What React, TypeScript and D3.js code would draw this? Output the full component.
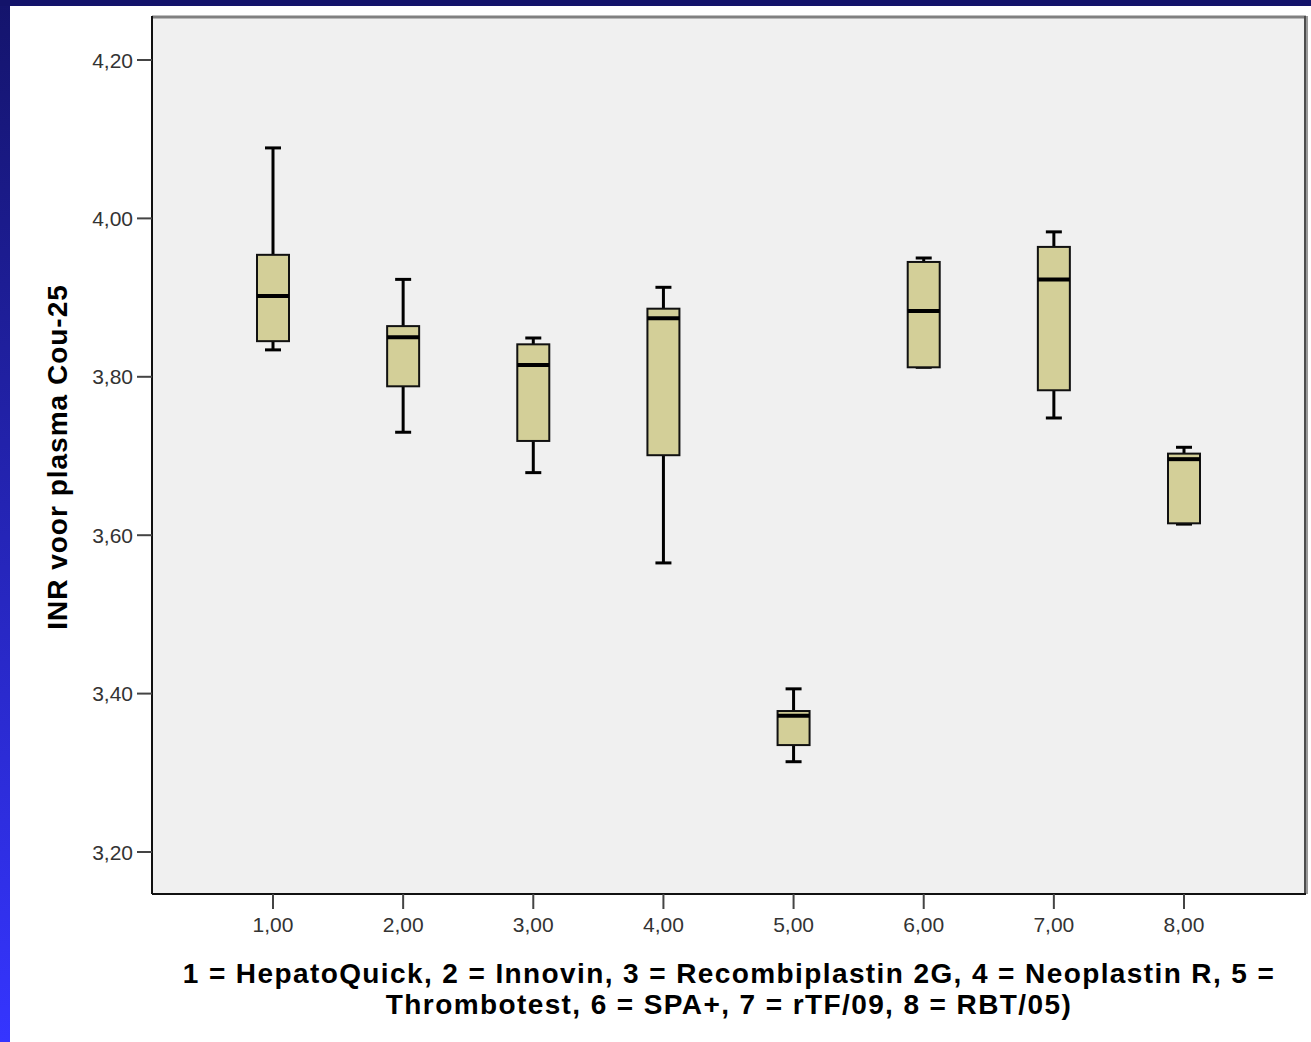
import React from 'react';
import * as d3 from 'd3';

// groups 1..8 (SPSS boxplot)
const categories = [1, 2, 3, 4, 5, 6, 7, 8];
const mins = [3.834, 3.730, 3.679, 3.565, 3.314, 3.812, 3.748, 3.614];
const q1s = [3.845, 3.788, 3.719, 3.701, 3.335, 3.812, 3.783, 3.615];
const medians = [3.902, 3.850, 3.815, 3.874, 3.372, 3.883, 3.923, 3.696];
const q3s = [3.954, 3.864, 3.841, 3.886, 3.378, 3.945, 3.964, 3.703];
const maxs = [4.089, 3.923, 3.849, 3.913, 3.406, 3.950, 3.983, 3.711];
const yTicks = [3.2, 3.4, 3.6, 3.8, 4.0, 4.2];

const yTitle = 'INR voor plasma Cou-25';
const xTitleLines = [
    '1 = HepatoQuick, 2 = Innovin, 3 = Recombiplastin 2G, 4 = Neoplastin R, 5 =',
    'Thrombotest, 6 = SPA+, 7 = rTF/09, 8 = RBT/05)',
];

const W = 1311;
const H = 1042;
const plot = { left: 152, top: 16, right: 1306, bottom: 894 };
const font = '"Liberation Sans", Arial, sans-serif';

const comma = (v: number) => d3.format('.2f')(v).replace('.', ',');

export default function App() {
    const y = d3.scaleLinear().domain([3.2, 4.2]).range([852, 60]);
    const x = d3.scaleLinear().domain([1, 8]).range([273, 1184]);
    const boxW = 32;
    const capW = 16;

    return (
        <svg width={W} height={H} style={{ position: 'absolute', left: 0, top: 0, display: 'block' }}>
            <defs>
                <linearGradient id="band" x1="0" y1="0" x2="0" y2="1">
                    <stop offset="0" stopColor="#14146c" />
                    <stop offset="1" stopColor="#3535ff" />
                </linearGradient>
            </defs>
            <rect x={0} y={0} width={W} height={H} fill="#ffffff" />
            <rect x={0} y={0} width={10} height={H} fill="url(#band)" />
            <rect x={0} y={0} width={W} height={6} fill="#13136a" />

            {/* plot area */}
            <rect x={plot.left} y={plot.top} width={plot.right - plot.left} height={plot.bottom - plot.top} fill="#f0f0f0" />
            <line x1={plot.left} x2={plot.right} y1={plot.top + 1} y2={plot.top + 1} stroke="#808080" strokeWidth={3} />
            <line x1={plot.right} x2={plot.right} y1={plot.top} y2={plot.bottom} stroke="#9a9a9a" strokeWidth={4} />
            <line x1={plot.right - 1} x2={plot.right - 1} y1={plot.top} y2={plot.bottom} stroke="#333" strokeWidth={1.5} />
            <line x1={plot.left} x2={plot.left} y1={plot.top} y2={plot.bottom} stroke="#111" strokeWidth={2} />
            <line x1={plot.left} x2={plot.right} y1={plot.bottom} y2={plot.bottom} stroke="#111" strokeWidth={2} />

            {/* y axis */}
            {yTicks.map(t => (
                <g key={t}>
                    <line x1={plot.left - 15} x2={plot.left} y1={y(t)} y2={y(t)} stroke="#444" strokeWidth={2} />
                    <text x={plot.left - 19} y={y(t)} dy="0.36em" textAnchor="end" fontFamily={font} fontSize={21} fill="#333">
                        {comma(t)}
                    </text>
                </g>
            ))}
            <text
                transform={`translate(67, 457) rotate(-90)`}
                textAnchor="middle" fontFamily={font} fontSize={28} letterSpacing={1} fontWeight="bold" fill="#000"
            >
                {yTitle}
            </text>

            {/* x axis */}
            {categories.map(c => (
                <g key={c}>
                    <line x1={x(c)} x2={x(c)} y1={plot.bottom} y2={plot.bottom + 15} stroke="#444" strokeWidth={2} />
                    <text x={x(c)} y={plot.bottom + 38} textAnchor="middle" fontFamily={font} fontSize={21} fill="#333">
                        {comma(c)}
                    </text>
                </g>
            ))}
            {xTitleLines.map((l, i) => (
                <text key={i} x={(plot.left + plot.right) / 2} y={983 + i * 31} textAnchor="middle"
                    fontFamily={font} fontSize={28} letterSpacing={1.4} fontWeight="bold" fill="#000">
                    {l}
                </text>
            ))}

            {/* boxes */}
            {categories.map((c, i) => {
                const cx = x(c);
                return (
                    <g key={c}>
                        <line x1={cx} x2={cx} y1={y(maxs[i])} y2={y(q3s[i])} stroke="#000" strokeWidth={3} />
                        <line x1={cx} x2={cx} y1={y(q1s[i])} y2={y(mins[i])} stroke="#000" strokeWidth={3} />
                        <line x1={cx - capW / 2} x2={cx + capW / 2} y1={y(maxs[i])} y2={y(maxs[i])} stroke="#000" strokeWidth={3} />
                        <line x1={cx - capW / 2} x2={cx + capW / 2} y1={y(mins[i])} y2={y(mins[i])} stroke="#000" strokeWidth={3} />
                        <rect x={cx - boxW / 2} y={y(q3s[i])} width={boxW} height={y(q1s[i]) - y(q3s[i])}
                            fill="#d3cf98" stroke="#111" strokeWidth={2} />
                        <line x1={cx - boxW / 2} x2={cx + boxW / 2} y1={y(medians[i])} y2={y(medians[i])} stroke="#000" strokeWidth={4} />
                    </g>
                );
            })}
        </svg>
    );
}
